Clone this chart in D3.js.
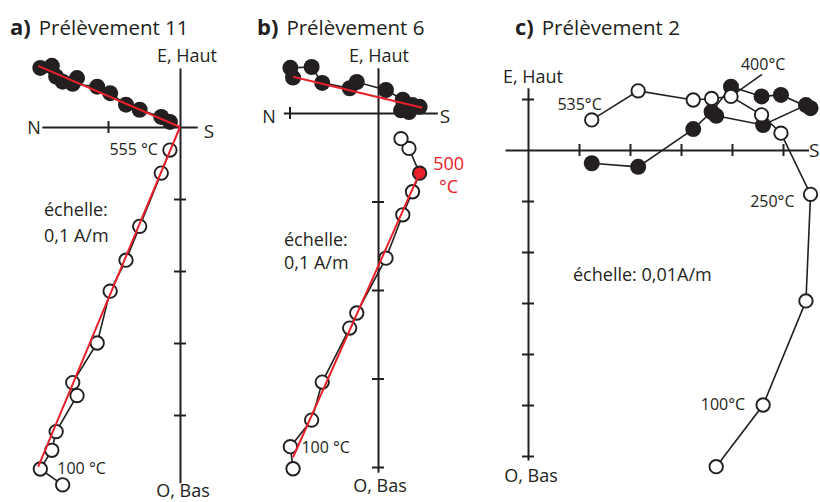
<!DOCTYPE html>
<html>
<head>
<meta charset="utf-8">
<script src="https://cdn.jsdelivr.net/npm/d3@7"></script>
<style>
  body { margin: 0; background: #fff; }
  svg text { font-family: "Open Sans", sans-serif; fill: #231f20; }
</style>
</head>
<body>
<svg id="chart" width="820" height="502"></svg>
<script>
// Zijderveld data, in scale ticks (a, b: 0,1 A/m per tick ; c: 0,01 A/m per tick)
// ns: N-S component (S positive), ew: E-W component (E positive), up: vertical (Haut positive)
const nsA = [-1.63, -1.94, -1.78, -1.72, -1.43, -1.49, -1.15, -0.97, -0.75, -0.56, -0.26, -0.14];
const ewA = [0.63, 0.82, 0.85, 0.70, 0.68, 0.60, 0.56, 0.47, 0.31, 0.24, 0.14, 0.07];
const upA = [-4.97, -4.75, -4.49, -4.23, -3.73, -3.55, -3.00, -2.28, -1.85, -1.38, -0.64, -0.32];
const fitHA = [[-1.97, 0.85], [0, 0]];
const fitVA = [[0, 0], [-1.97, -4.72]];

const nsB = [-0.96, -0.99, -0.75, -0.63, -0.32, -0.24, 0.09, 0.28, 0.39, 0.47, 0.35, 0.26];
const ewB = [0.40, 0.51, 0.52, 0.34, 0.28, 0.35, 0.26, 0.15, 0.09, 0.07, 0.01, 0.03];
const upB = [-4.02, -3.77, -3.47, -3.04, -2.43, -2.26, -1.64, -1.15, -0.89, -0.68, -0.40, -0.29];
const fitHB = [[-0.96, 0.41], [0.50, 0.06]];
const fitVB = [[0.47, -0.68], [-0.96, -3.89]];

const nsC = [3.69, 4.61, 5.45, 5.54, 4.96, 4.58, 3.98, 3.60, 3.24, 2.16, 1.25];
const ewC = [0.67, 0.49, 0.88, 0.82, 1.08, 1.05, 1.24, 0.75, 0.41, -0.33, -0.26];
const upC = [-6.21, -5.00, -2.96, -0.87, 0.33, 0.69, 1.05, 1.01, 0.98, 1.16, 0.59];

const hTicksA = [-1], vTicksA = [-1, -2, -3, -4];
const hTicksB = [-1], vTicksB = [-1, -2, -3, -4];
const hTicksC = [1, 2, 3, 4, 5], vTicksC = [1, -1, -2, -3, -4, -5, -6];

const tempLabelsA = [{ i: 1, text: "100 °C" }, { i: 11, text: "555 °C" }];
const tempLabelsB = [{ i: 1, text: "100 °C" }, { i: 9, text: "500", text2: "°C" }];
const tempLabelsC = [{ i: 1, text: "100°C" }, { i: 3, text: "250°C" }, { i: 6, text: "400°C" }, { i: 10, text: "535°C" }];

const ink = "#231f20", red = "#e8202a";
const svg = d3.select("#chart");

const panels = [
    { letter: "a)", title: "Prélèvement 11", tx: 10, ox: 180, oy: 127, unit: 72,
      hExt: [-1.92, 0.24], vExt: [0.82, -4.94], ns: nsA, ew: ewA, up: upA,
      hTicks: hTicksA, vTicks: vTicksA, fitH: fitHA, fitV: fitVA, temps: tempLabelsA,
      labelOffsets: [{ dx: 17, dy: 5, anchor: "start" }, { dx: -12, dy: 5, anchor: "end" }],
      nPos: [34, 134], sPos: [209, 138], haut: [187, 62], bas: [183, 497],
      scale: ["échelle:", "0,1 A/m"], scalePos: [44, 216, 26] },
    { letter: "b)", title: "Prélèvement 6", tx: 257, ox: 378, oy: 113, unit: 88.5,
      hExt: [-1.07, 0.67], vExt: [0.51, -4.06], ns: nsB, ew: ewB, up: upB,
      hTicks: hTicksB, vTicks: vTicksB, fitH: fitHB, fitV: fitVB, temps: tempLabelsB,
      highlight: 9,
      labelOffsets: [{ dx: 11, dy: 6, anchor: "start" }, { dx: 29, dy: -3, anchor: "middle" }],
      nPos: [269, 123], sPos: [445, 123], haut: [379, 62], bas: [380, 492],
      scale: ["échelle:", "0,1 A/m"], scalePos: [284, 246, 23] },
    { letter: "c)", title: "Prélèvement 2", tx: 515, ox: 528, oy: 150, unit: 51,
      hExt: [-0.45, 5.5], vExt: [1.22, -6.08], ns: nsC, ew: ewC, up: upC,
      hTicks: hTicksC, vTicks: vTicksC, fitH: null, fitV: null, temps: tempLabelsC,
      labelOffsets: [{ dx: -18, dy: 5, anchor: "end" }, { dx: -16, dy: 13, anchor: "end" },
                     { dx: 10, dy: -26, anchor: "start", lead: [[31, -22], [0, 0]] },
                     { dx: 10, dy: -10, anchor: "end" }],
      nPos: null, sPos: [809, 157], haut: [533, 83], bas: [531, 482],
      scale: ["échelle: 0,01A/m"], scalePos: [573, 281, 0] }
];

panels.forEach(drawPanel);

function drawPanel(p) {
    const g = svg.append("g");

    const x = d3.scaleLinear().domain(p.hExt).range(p.hExt.map(v => p.ox + v * p.unit));
    const y = d3.scaleLinear().domain(p.vExt).range(p.vExt.map(v => p.oy - v * p.unit));

    // title
    const title = g.append("text").attr("x", p.tx).attr("y", 35).attr("font-size", "20.5px");
    title.append("tspan").attr("font-weight", "bold").attr("font-size", "22px").text(p.letter);
    title.append("tspan").attr("dx", 8).text(p.title);

    // horizontal axis (N - S)
    g.append("g")
        .attr("transform", `translate(0,${p.oy})`)
        .call(d3.axisBottom(x).tickValues(p.hTicks).tickSize(6).tickSizeOuter(0).tickFormat(""))
        .call(a => a.select(".domain").attr("stroke", ink).attr("stroke-width", 2))
        .call(a => a.selectAll(".tick line").attr("y1", -6).attr("stroke", ink).attr("stroke-width", 2));

    // vertical axis (E, Haut - O, Bas)
    g.append("g")
        .attr("transform", `translate(${p.ox},0)`)
        .call(d3.axisLeft(y).tickValues(p.vTicks).tickSize(6).tickSizeOuter(0).tickFormat(""))
        .call(a => a.select(".domain").attr("stroke", ink).attr("stroke-width", 2))
        .call(a => a.selectAll(".tick line").attr("x1", 6).attr("stroke", ink).attr("stroke-width", 2));

    // axis labels
    if (p.nPos) g.append("text").attr("x", p.nPos[0]).attr("y", p.nPos[1])
        .attr("text-anchor", "middle").attr("font-size", "18px").text("N");
    g.append("text").attr("x", p.sPos[0]).attr("y", p.sPos[1])
        .attr("text-anchor", p.nPos ? "middle" : "start").attr("font-size", "19px").text("S");
    g.append("text").attr("x", p.haut[0]).attr("y", p.haut[1])
        .attr("text-anchor", "middle").attr("font-size", "18px").text("E, Haut");
    g.append("text").attr("x", p.bas[0]).attr("y", p.bas[1])
        .attr("text-anchor", "middle").attr("font-size", "18px").text("O, Bas");

    // scale note
    p.scale.forEach((s, k) => {
        g.append("text").attr("x", p.scalePos[0]).attr("y", p.scalePos[1] + k * p.scalePos[2])
            .attr("font-size", "18px").text(s);
    });

    const pts = p.ns.map((n, i) => ({ i: i, ns: n, ew: p.ew[i], up: p.up[i] }));

    const lineH = d3.line().x(d => x(d.ns)).y(d => y(d.ew));
    const lineV = d3.line().x(d => x(d.ns)).y(d => y(d.up));

    g.append("path").datum(pts).attr("d", lineH)
        .attr("fill", "none").attr("stroke", ink).attr("stroke-width", 1.6);
    g.append("path").datum(pts).attr("d", lineV)
        .attr("fill", "none").attr("stroke", ink).attr("stroke-width", 1.6);

    // leader lines for labels
    p.temps.forEach((t, k) => {
        const o = p.labelOffsets[k];
        if (!o.lead) return;
        const d = pts[t.i];
        g.append("line")
            .attr("x1", x(d.ns) + o.lead[0][0]).attr("y1", y(d.up) + o.lead[0][1])
            .attr("x2", x(d.ns) + o.lead[1][0]).attr("y2", y(d.up) + o.lead[1][1])
            .attr("stroke", ink).attr("stroke-width", 1.6);
    });

    // horizontal projection: filled circles
    g.selectAll(".fill").data(pts).enter().append("circle")
        .attr("cx", d => x(d.ns)).attr("cy", d => y(d.ew)).attr("r", 8)
        .attr("fill", ink);

    // vertical projection: open circles
    g.selectAll(".open").data(pts).enter().append("circle")
        .attr("cx", d => x(d.ns)).attr("cy", d => y(d.up)).attr("r", 6.7)
        .attr("fill", d => d.i === p.highlight ? red : "#fff")
        .attr("stroke", ink).attr("stroke-width", 1.9);

    // fitted directions (red)
    const fit = d3.line().x(d => x(d[0])).y(d => y(d[1]));
    [p.fitH, p.fitV].forEach(f => {
        if (!f) return;
        g.append("path").datum(f).attr("d", fit)
            .attr("fill", "none").attr("stroke", red).attr("stroke-width", 2);
    });

    // temperature labels
    p.temps.forEach((t, k) => {
        const o = p.labelOffsets[k];
        const d = pts[t.i];
        const isRed = t.i === p.highlight;
        g.append("text")
            .attr("x", x(d.ns) + o.dx).attr("y", y(d.up) + o.dy)
            .attr("text-anchor", o.anchor).attr("font-size", isRed ? "18px" : "16px")
            .style("fill", isRed ? red : ink)
            .text(t.text);
        if (t.text2) {
            g.append("text")
                .attr("x", x(d.ns) + o.dx).attr("y", y(d.up) + o.dy + 23)
                .attr("text-anchor", o.anchor).attr("font-size", "18px")
                .style("fill", isRed ? red : ink)
                .text(t.text2);
        }
    });
}
</script>
</body>
</html>
